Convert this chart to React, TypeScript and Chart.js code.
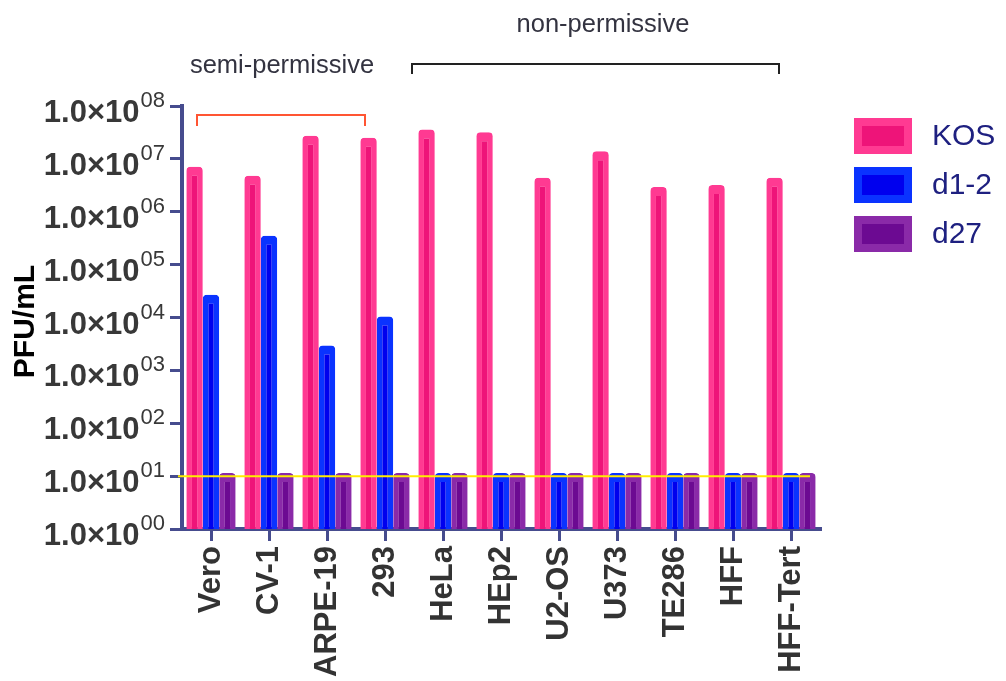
import React, { useEffect, useRef } from "react";
import { Chart, registerables } from "chart.js";

Chart.register(...registerables);

const categories = ["Vero", "CV-1", "ARPE-19", "293", "HeLa", "HEp2", "U2-OS", "U373", "TE286", "HFF", "HFF-Tert"];
const kosValues = [7.1e6, 4.8e6, 2.75e7, 2.5e7, 3.6e7, 3.2e7, 4.4e6, 1.4e7, 2.95e6, 3.2e6, 4.4e6];
const d12Values = [2.7e4, 3.5e5, 2.95e3, 1.05e4, 11.5, 11.5, 11.5, 11.5, 11.5, 11.5, 11.5];
const d27Values = [11.5, 11.5, 11.5, 11.5, 11.5, 11.5, 11.5, 11.5, 11.5, 11.5, 11.5];
const seriesNames = ["KOS", "d1-2", "d27"];
const yTickValues = [1e0, 1e1, 1e2, 1e3, 1e4, 1e5, 1e6, 1e7, 1e8];
const yTickMantissa = "1.0×10";
const yTickExponents = ["00", "01", "02", "03", "04", "05", "06", "07", "08"];
const detectionLimit = 10;
const yAxisTitle = "PFU/mL";
const groupLabels = ["semi-permissive", "non-permissive"];

const outerColors = ["#FF3A92", "#0A33FF", "#8A2AA8"];
const innerColors = ["#EE1479", "#0000EE", "#6C0A92"];
const axisColor = "#464C8E";
const FONT = "'Liberation Sans', Arial, Helvetica, sans-serif";

const drawPlugin = {
  id: "customDraw",
  afterDatasetsDraw(chart: any) {
    const { ctx, chartArea, scales } = chart;
    const y = scales.y.getPixelForValue(detectionLimit);
    ctx.save();
    ctx.strokeStyle = "#FFEE00";
    ctx.lineWidth = 2;
    ctx.beginPath();
    ctx.moveTo(chartArea.left - 4, y);
    ctx.lineTo(chartArea.right - 10, y);
    ctx.stroke();
    ctx.restore();
  },
  afterDraw(chart: any) {
    const { ctx, scales } = chart;
    const ys = scales.y;
    ctx.save();
    // y tick labels with superscript exponents
    ctx.fillStyle = "#383838";
    ctx.textAlign = "right";
    ctx.textBaseline = "alphabetic";
    yTickValues.forEach((v, i) => {
      const py = ys.getPixelForValue(v);
      const exp = yTickExponents[i];
      const supRight = ys.right - 17;
      ctx.font = `22px ${FONT}`;
      const supW = ctx.measureText(exp).width;
      ctx.fillText(exp, supRight, py + 1);
      ctx.font = `bold 31px ${FONT}`;
      ctx.fillText(yTickMantissa, supRight - supW - 1, py + 16);
    });

    // y axis title
    ctx.save();
    ctx.translate(26, (chart.chartArea.top + chart.chartArea.bottom) / 2 + 4);
    ctx.rotate(-Math.PI / 2);
    ctx.textAlign = "center";
    ctx.textBaseline = "middle";
    ctx.fillStyle = "#000000";
    ctx.font = `bold 30px ${FONT}`;
    ctx.fillText(yAxisTitle, 0, 0);
    ctx.restore();

    // brackets
    ctx.lineWidth = 2;
    ctx.strokeStyle = "#FF5533";
    ctx.beginPath();
    ctx.moveTo(197, 126);
    ctx.lineTo(197, 115);
    ctx.lineTo(365, 115);
    ctx.lineTo(365, 126);
    ctx.stroke();
    ctx.strokeStyle = "#222222";
    ctx.beginPath();
    ctx.moveTo(412, 74);
    ctx.lineTo(412, 64);
    ctx.lineTo(779, 64);
    ctx.lineTo(779, 74);
    ctx.stroke();

    ctx.fillStyle = "#333340";
    ctx.textAlign = "center";
    ctx.textBaseline = "middle";
    ctx.font = `25.5px ${FONT}`;
    ctx.fillText(groupLabels[0], 282, 66);
    ctx.fillText(groupLabels[1], 603, 25);

    // legend
    const lx = 854;
    const rowCenters = [136, 185, 234];
    chart.data.datasets.forEach((ds: any, i: number) => {
      const cy = rowCenters[i];
      ctx.fillStyle = outerColors[i];
      ctx.fillRect(lx, cy - 18, 58, 36);
      ctx.fillStyle = innerColors[i];
      ctx.fillRect(lx + 8, cy - 10, 42, 20);
      ctx.fillStyle = "#1E2080";
      ctx.font = `30px ${FONT}`;
      ctx.textAlign = "left";
      ctx.textBaseline = "middle";
      ctx.fillText(ds.label, 932, cy + 1);
    });
    ctx.restore();
  },
};

export default function App() {
  const canvasRef = useRef<HTMLCanvasElement | null>(null);

  useEffect(() => {
    document.body.style.margin = "0";
    const canvas = canvasRef.current;
    if (!canvas) return;
    const seriesValues = [kosValues, d12Values, d27Values];
    const chart = new Chart(canvas, {
      type: "bar",
      data: {
        labels: categories,
        datasets: seriesValues.map((vals, i) => ({
          label: seriesNames[i],
          data: vals,
          backgroundColor: innerColors[i],
          borderColor: outerColors[i],
          borderWidth: { left: 5.6, right: 5.6, top: 9, bottom: 0 },
          borderSkipped: "start",
          borderRadius: { topLeft: 4, topRight: 4, bottomLeft: 0, bottomRight: 0 },
          categoryPercentage: 0.85,
          barPercentage: 1.0,
        })),
      },
      options: {
        responsive: false,
        animation: false,
        devicePixelRatio: 1,
        layout: { padding: { top: 106, right: 186, left: 0, bottom: 0 } },
        plugins: {
          legend: { display: false },
          tooltip: { enabled: false },
          title: { display: false },
        },
        scales: {
          x: {
            type: "category",
            offset: true,
            grid: {
              display: true,
              drawOnChartArea: false,
              drawTicks: true,
              tickLength: 12,
              color: axisColor,
              lineWidth: 3,
              offset: false,
            },
            border: { display: true, color: axisColor, width: 4 },
            ticks: {
              autoSkip: false,
              maxRotation: 90,
              minRotation: 90,
              padding: 5,
              color: "#333333",
              font: { family: FONT, size: 31, weight: "bold" },
            },
            afterFit: (scale: any) => {
              scale.height = 152;
            },
          },
          y: {
            type: "logarithmic",
            min: 1,
            max: 1e8,
            grid: {
              display: true,
              drawOnChartArea: false,
              drawTicks: true,
              tickLength: 12,
              color: axisColor,
              lineWidth: 3,
            },
            border: { display: true, color: axisColor, width: 4 },
            ticks: { display: false },
            afterBuildTicks: (scale: any) => {
              scale.ticks = yTickValues.map((v) => ({ value: v }));
            },
            afterFit: (scale: any) => {
              scale.width = 182;
            },
          },
        },
      },
      plugins: [drawPlugin],
    } as any);
    return () => chart.destroy();
  }, []);

  return (
    <div style={{ position: "absolute", left: 0, top: 0, width: 1006, height: 681, background: "#ffffff" }}>
      <canvas ref={canvasRef} width={1006} height={681} />
    </div>
  );
}
